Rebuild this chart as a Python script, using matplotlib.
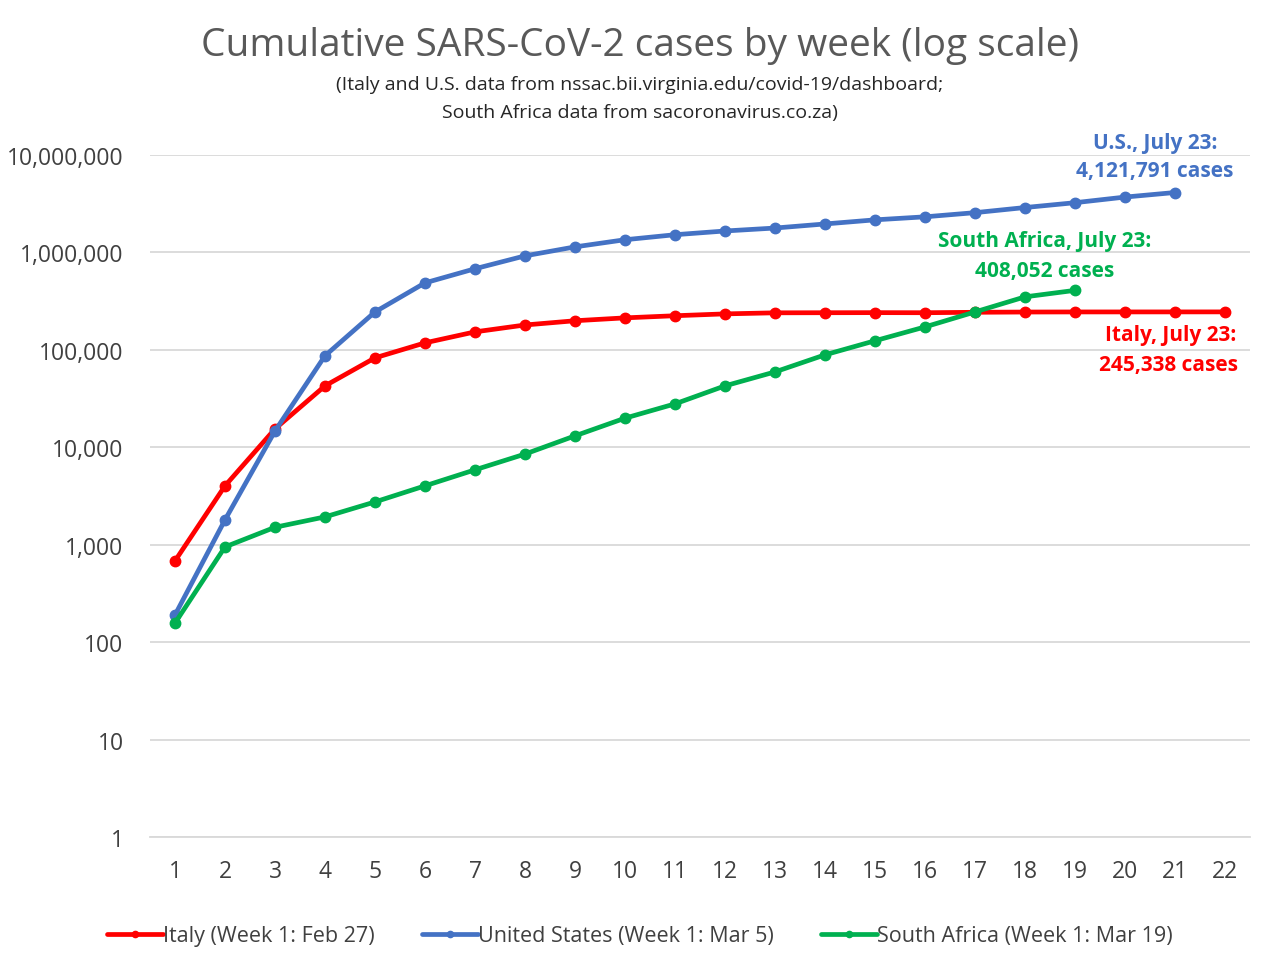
import matplotlib
matplotlib.use("Agg")
import matplotlib.pyplot as plt
from matplotlib.ticker import FixedLocator, FuncFormatter, NullLocator

plt.rcParams['font.family'] = ['Open Sans', 'DejaVu Sans']

weeks = list(range(1, 23))
italy = [682, 4020, 15450, 42700, 82800, 118000, 153000, 180000, 199000, 213000,
         224000, 234000, 240000, 240500, 241000, 240500, 243000, 244500, 245000,
         245100, 245200, 245338]
us = [190, 1800, 14700, 87000, 245000, 487000, 680000, 922000, 1140000, 1350000,
      1520000, 1660000, 1780000, 1960000, 2160000, 2320000, 2560000, 2890000,
      3240000, 3700000, 4121791]
sa = [157, 949, 1510, 1930, 2750, 4020, 5870, 8520, 13100, 19900, 27900, 42700,
      59400, 88900, 124000, 172000, 245000, 350000, 408052]

labels = ['Italy (Week 1: Feb 27)', 'United States (Week 1: Mar 5)',
          'South Africa (Week 1: Mar 19)']
colors = ['#ff0000', '#4472c4', '#00b050']
yticks = [1, 10, 100, 1000, 10000, 100000, 1000000, 10000000]

fig = plt.figure(figsize=(12.8, 9.78), dpi=100)
ax = fig.add_axes([150/1280, (978-838)/978, 1100/1280, (838-156)/978])

series = [italy, us, sa]
for vals, lab, col in zip(series, labels, colors):
    ax.plot(weeks[:len(vals)], vals, color=col, lw=3.4, marker='o', ms=7.5,
            label=lab, solid_capstyle='round', zorder=3)

ax.set_yscale('log')
ax.set_ylim(1, 1e7)
ax.set_xlim(0.5, 22.5)
ax.yaxis.set_major_locator(FixedLocator(yticks))
ax.yaxis.set_minor_locator(NullLocator())
ax.yaxis.set_major_formatter(FuncFormatter(lambda v, p: f"{int(round(v)):,}"))
ax.set_xticks(weeks)
ax.grid(axis='y', color='#d9d9d9', lw=1.3)
ax.set_axisbelow(True)
for s in ['top', 'right', 'left']:
    ax.spines[s].set_visible(False)
ax.spines['bottom'].set_color('#d9d9d9')
ax.spines['bottom'].set_linewidth(1.3)
ax.tick_params(axis='both', length=0, labelsize=16.5, colors='#404040')
ax.tick_params(axis='x', pad=16)
ax.tick_params(axis='y', pad=19)

fig.text(0.5, 1 - 46/978, 'Cumulative SARS-CoV-2 cases by week (log scale)',
         ha='center', va='center', fontsize=28, color='#595959')
fig.text(0.5, 1 - 85/978, '(Italy and U.S. data from nssac.bii.virginia.edu/covid-19/dashboard;',
         ha='center', va='center', fontsize=14, color='#262626')
fig.text(0.5, 1 - 113/978, 'South Africa data from sacoronavirus.co.za)',
         ha='center', va='center', fontsize=14, color='#262626')

def px(xp, yp):
    return xp / 1280, 1 - yp / 978

fig.text(*px(1155, 143), 'U.S., July 23:', ha='center', va='center',
         fontsize=15, fontweight='bold', color=colors[1])
fig.text(*px(1155, 172), '4,121,791 cases', ha='center', va='center',
         fontsize=15, fontweight='bold', color=colors[1])
fig.text(*px(1045, 241), 'South Africa, July 23:', ha='center', va='center',
         fontsize=15, fontweight='bold', color=colors[2])
fig.text(*px(1045, 271), '408,052 cases', ha='center', va='center',
         fontsize=15, fontweight='bold', color=colors[2])
fig.text(*px(1236, 336), 'Italy, July 23:', ha='right', va='center',
         fontsize=15, fontweight='bold', color=colors[0])
fig.text(*px(1238, 366), '245,338 cases', ha='right', va='center',
         fontsize=15, fontweight='bold', color=colors[0])

leg = fig.legend(loc='center', bbox_to_anchor=(0.5, 1 - 937/978), ncol=3,
                 frameon=False, fontsize=15.5, handlelength=2.6, handletextpad=0.0,
                 columnspacing=2.2, labelcolor='#404040', markerscale=0.6)

fig.savefig('out.png', dpi=100)
